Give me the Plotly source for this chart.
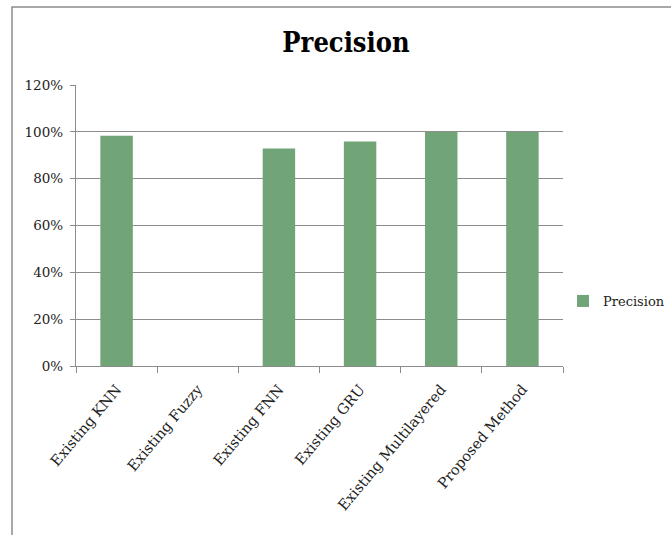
import plotly.graph_objects as go

# Precision of each method (fraction of 1)
methods = ["Existing KNN", "Existing Fuzzy", "Existing FNN", "Existing GRU",
           "Existing Multilayered", "Proposed Method"]
precision = [0.983, None, 0.929, 0.959, 0.999, 0.999]
y_ticks = [0, 0.2, 0.4, 0.6, 0.8, 1.0, 1.2]
y_tick_text = ["0%", "20%", "40%", "60%", "80%", "100%", "120%"]

W, H = 671, 535
L, R, T, B = 76, 108, 85, 169
pw, ph = W - L - R, H - T - B

fig = go.Figure()
fig.add_trace(go.Bar(
    x=methods, y=precision, name="Precision",
    marker=dict(color="#71A476", line=dict(width=0)),
    width=0.4, showlegend=True,
))

grid = "#8C8C8C"
serif = "DejaVu Serif"
txt = "#222222"

fig.update_layout(
    width=W, height=H,
    margin=dict(l=L, r=R, t=T, b=B, autoexpand=False),
    paper_bgcolor="white", plot_bgcolor="white",
    title=dict(text="<b>Precision</b>", x=346 / W, xanchor="center",
               y=1 - 43 / H, yanchor="middle",
               font=dict(family="DejaVu Serif Condensed", size=27, color="#000000")),
    font=dict(family=serif, size=13, color=txt),
    showlegend=True,
    legend=dict(x=(563 - L) / pw, xanchor="left",
                y=(H - B - 301) / ph, yanchor="middle",
                font=dict(family=serif, size=13, color=txt),
                itemwidth=30, bgcolor="rgba(0,0,0,0)"),
)

fig.update_xaxes(
    type="category", showgrid=False, showline=True, linecolor=grid, linewidth=1.3,
    ticks="outside", tickson="boundaries", ticklen=6, tickcolor=grid,
    tickangle=-50, ticklabelstandoff=8,
    tickfont=dict(family=serif, size=14.5, color=txt),
)
fig.update_yaxes(
    range=[0, 1.2], tickvals=y_ticks, ticktext=y_tick_text,
    showgrid=True, gridcolor=grid, gridwidth=1.3,
    showline=True, linecolor=grid, linewidth=1.3,
    ticks="outside", ticklen=5, tickcolor=grid, zeroline=False,
    ticklabelstandoff=4,
    tickfont=dict(family=serif, size=13.5, color=txt),
)

# Chart frame around the whole figure area
fig.add_shape(type="rect", xref="paper", yref="paper",
              x0=(12 - L) / pw, x1=(W + 5 - L) / pw,
              y0=(H - B - (H + 5)) / ph, y1=(H - B - 7) / ph,
              line=dict(color="#8C8C8C", width=1.5), fillcolor="rgba(0,0,0,0)",
              layer="below")

fig.write_html("out.html")
